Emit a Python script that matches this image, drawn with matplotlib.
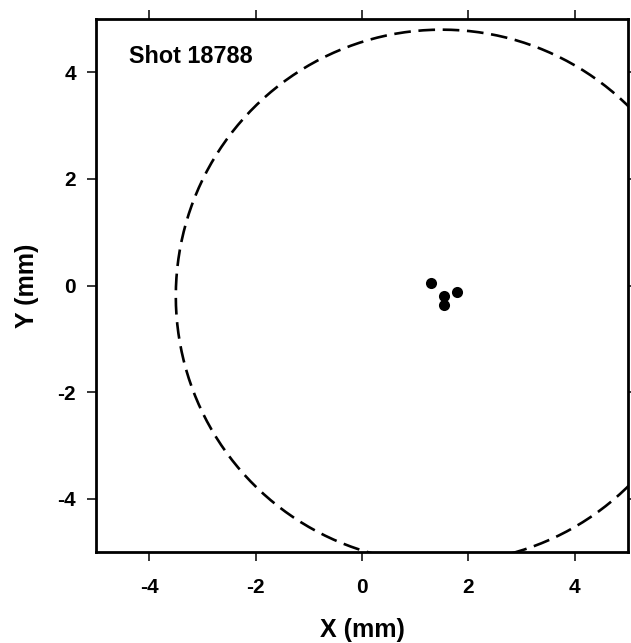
import numpy as np
import matplotlib
matplotlib.use('Agg')
import matplotlib.pyplot as plt

plt.rcParams['font.family'] = ['Liberation Sans', 'DejaVu Sans']
plt.rcParams['font.weight'] = 'bold'
plt.rcParams['lines.scale_dashes'] = False

# shot positions (mm)
shot_x = [1.29, 1.78, 1.54, 1.54]
shot_y = [0.05, -0.12, -0.19, -0.36]

# reference circle (mm)
circle_center = (1.50, -0.20)
circle_radius = 5.0

shot_label = 'Shot 18788'
ticks = [-4, -2, 0, 2, 4]

fig = plt.figure(figsize=(6.31, 6.43), dpi=100)
ax = fig.add_axes([96 / 631, 1 - 552 / 643, 532 / 631, 533 / 643])

theta = np.linspace(0, 2 * np.pi, 181)
ax.plot(circle_center[0] + circle_radius * np.cos(theta),
        circle_center[1] + circle_radius * np.sin(theta),
        color='black', lw=1.9, linestyle=(0, (12, 5.5)))

ax.plot(shot_x, shot_y, 'o', color='black', markersize=8, markeredgewidth=0)

ax.text(-4.38, 4.30, shot_label, fontsize=16.8, fontweight='bold',
        ha='left', va='center')

ax.set_xlim(-5, 5)
ax.set_ylim(-5, 5)
ax.set_xticks(ticks)
ax.set_yticks(ticks)
ax.set_xticklabels([str(t) for t in ticks])
ax.set_yticklabels([str(t) for t in ticks])

ax.tick_params(direction='out', length=6.5, width=1.1, labelsize=15,
               top=True, right=True, labeltop=False, labelright=False)
ax.tick_params(axis='x', pad=12)
ax.tick_params(axis='y', pad=8)

for sp in ax.spines.values():
    sp.set_linewidth(2.0)

ax.set_xlabel('X (mm)', fontsize=18, fontweight='bold', labelpad=15)
ax.set_ylabel('Y (mm)', fontsize=18, fontweight='bold', labelpad=13)

fig.savefig('out.png', dpi=100)
